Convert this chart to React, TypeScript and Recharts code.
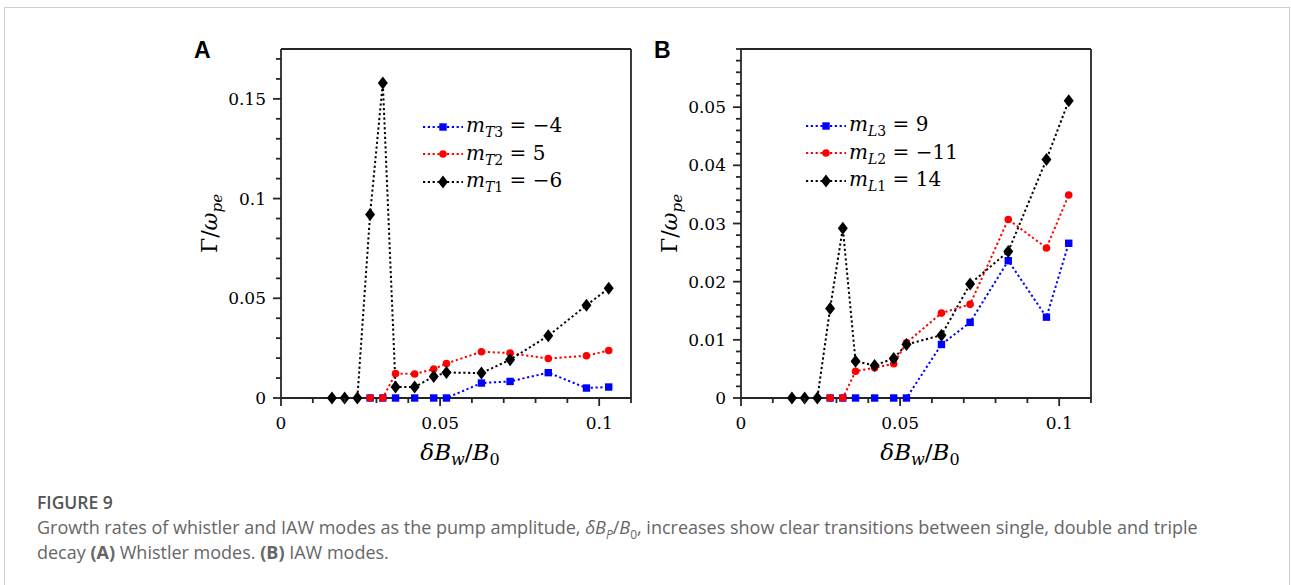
import { LineChart, Line, XAxis, YAxis } from 'recharts'

// pump amplitude dB_w/B_0 at which growth rates were computed
const xValues = [0.016, 0.02, 0.024, 0.028, 0.032, 0.036, 0.042, 0.048, 0.052, 0.063, 0.072, 0.084, 0.096, 0.103]

// (A) whistler modes, Gamma/omega_pe
const whistlerT3 = [null, null, null, 0, 0, 0, 0, 0, 0, 0.0075, 0.0083, 0.0127, 0.005, 0.0055]
const whistlerT2 = [null, null, null, 0, 0, 0.0123, 0.012, 0.0145, 0.0173, 0.0232, 0.0225, 0.0198, 0.0212, 0.0238]
const whistlerT1 = [0, 0, 0, 0.092, 0.158, 0.0055, 0.0055, 0.0108, 0.0128, 0.0125, 0.0192, 0.0312, 0.0465, 0.055]

// (B) IAW modes, Gamma/omega_pe
const iawL3 = [null, null, null, 0, 0, 0, 0, 0, 0, 0.0092, 0.013, 0.0236, 0.0139, 0.0266]
const iawL2 = [null, null, null, 0, 0, 0.0046, 0.0052, 0.0059, 0.0095, 0.0146, 0.0161, 0.0307, 0.0258, 0.0349]
const iawL1 = [0, 0, 0, 0.0154, 0.0292, 0.0063, 0.0056, 0.0068, 0.0092, 0.0108, 0.0196, 0.0252, 0.041, 0.0511]

const xTicks = [0, 0.01, 0.02, 0.03, 0.04, 0.05, 0.06, 0.07, 0.08, 0.09, 0.1, 0.11]
const xTickLabels = [0, 0.05, 0.1]
const yTicksA = [0, 0.01, 0.02, 0.03, 0.04, 0.05, 0.06, 0.07, 0.08, 0.09, 0.1, 0.11, 0.12, 0.13, 0.14, 0.15, 0.16, 0.17]
const yTickLabelsA = [0, 0.05, 0.1, 0.15]
const yTicksB = [0, 0.002, 0.004, 0.006, 0.008, 0.01, 0.012, 0.014, 0.016, 0.018, 0.02, 0.022, 0.024, 0.026, 0.028, 0.03,
  0.032, 0.034, 0.036, 0.038, 0.04, 0.042, 0.044, 0.046, 0.048, 0.05, 0.052, 0.054, 0.056, 0.058, 0.06]
const yTickLabelsB = [0, 0.01, 0.02, 0.03, 0.04, 0.05]

const legendA = [['T3', '−4'], ['T2', '5'], ['T1', '−6']]
const legendB = [['L3', '9'], ['L2', '−11'], ['L1', '14']]

const COLORS = ['#0000ff', '#ff0000', '#000000']
const SHAPES = ['square', 'circle', 'diamond']
const AXIS = '#262626'
const MATH = '"DejaVu Serif", serif'
const YW = 110 // left axis band

const toRows = (ys: (number | null)[]) => {
  const rows = [{ x: 0, y: 0 }]
  ys.forEach((y, i) => { if (y !== null) rows.push({ x: xValues[i], y }) })
  return rows
}

function Marker({ cx, cy, shape, color }: any) {
  if (shape === 'square') return <rect x={cx - 3.7} y={cy - 3.7} width={7.4} height={7.4} fill={color} />
  if (shape === 'circle') return <circle cx={cx} cy={cy} r={3.8} fill={color} />
  return <path d={`M${cx},${cy - 6.5}L${cx + 5},${cy}L${cx},${cy + 6.5}L${cx - 5},${cy}Z`} fill={color} />
}

const near = (list: number[], v: number) => list.some(m => Math.abs(m - v) < 1e-9)

const makeTick = (side: string, labels: number[]) => (props: any) => {
  const { x, y, payload, index } = props
  const v = payload.value
  const major = near(labels, v)
  const len = major ? 8 : 5
  let line
  if (side === 'bottom') line = <line x1={x} y1={y} x2={x} y2={y + len} />
  else if (side === 'top') line = <line x1={x} y1={y} x2={x} y2={y - len} />
  else if (side === 'left') line = <line x1={x} y1={y} x2={x - len} y2={y} />
  else line = <line x1={x} y1={y} x2={x + len} y2={y} />
  return (
    <g key={`${side}-${index}`} stroke={AXIS} strokeWidth={1.8}>
      {line}
      {major && side === 'bottom' && (
        <text x={x} y={y + 31} textAnchor="middle" stroke="none" fill="#000" fontFamily={MATH} fontSize={17}>{String(v)}</text>
      )}
      {major && side === 'left' && (
        <text x={x - 15} y={y + 6} textAnchor="end" stroke="none" fill="#000" fontFamily={MATH} fontSize={17}>{String(v)}</text>
      )}
    </g>
  )
}

const xTitle = (props: any) => {
  const { x, y, width } = props.viewBox
  return (
    <text x={x + width / 2 + 4} y={y + 62} textAnchor="middle" fontFamily={MATH} fontSize={23} fill="#000">
      <tspan fontStyle="italic">δB</tspan>
      <tspan fontStyle="italic" fontSize={16} dy={5}>w</tspan>
      <tspan dy={-5}>/</tspan>
      <tspan fontStyle="italic">B</tspan>
      <tspan fontSize={16} dy={5}>0</tspan>
    </text>
  )
}

const yTitle = (props: any) => {
  const { x, y, width, height } = props.viewBox
  const tx = x + width - 64
  const ty = y + height / 2
  return (
    <text x={tx} y={ty} transform={`rotate(-90, ${tx}, ${ty})`} textAnchor="middle" fontFamily={MATH} fontSize={22} fill="#000">
      Γ/<tspan fontStyle="italic">ω</tspan>
      <tspan fontStyle="italic" fontSize={15} dy={5}>pe</tspan>
    </text>
  )
}

function Legend({ left, top, group, items }: any) {
  return (
    <div style={{ position: 'absolute', left, top, fontFamily: MATH, fontSize: 20, color: '#000' }}>
      {items.map((it: string[], i: number) => (
        <div key={it[0]} style={{ display: 'flex', alignItems: 'center', height: 27.5, whiteSpace: 'nowrap' }}>
          <svg width={40} height={20}>
            <line x1={0} y1={10} x2={40} y2={10} stroke={COLORS[i]} strokeWidth={2} strokeDasharray="2.2 2.6" />
            <Marker cx={20} cy={10} shape={SHAPES[i]} color={COLORS[i]} />
          </svg>
          <span style={{ marginLeft: 3 }}>
            <i>m</i>
            <sub style={{ fontSize: 14, verticalAlign: -5 }}><i>{group}</i>{it[0].slice(1)}</sub>
            <span> = {it[1]}</span>
          </span>
        </div>
      ))}
    </div>
  )
}

function Panel({ left, letter, series, yDomain, yTicks, yLabels }: any) {
  return (
    <div style={{ position: 'absolute', left: left - YW, top: 39, width: YW + 360, height: 429 }}>
      <LineChart width={YW + 360} height={429} margin={{ top: 0, right: 0, bottom: 0, left: 0 }}>
        <XAxis dataKey="x" type="number" domain={[0, 0.11]} ticks={xTicks} interval={0} height={70}
          tickSize={0} tickMargin={0} axisLine={{ stroke: AXIS, strokeWidth: 1.8 }} tickLine={false}
          tick={makeTick('bottom', xTickLabels)} label={{ content: xTitle }} />
        <XAxis xAxisId="top" orientation="top" dataKey="x" type="number" domain={[0, 0.11]} ticks={xTicks} interval={0}
          height={10} tickSize={0} tickMargin={0} axisLine={{ stroke: AXIS, strokeWidth: 1.8 }} tickLine={false}
          tick={makeTick('top', xTickLabels)} />
        <YAxis type="number" domain={yDomain} ticks={yTicks} interval={0} width={YW} tickSize={0} tickMargin={0}
          axisLine={{ stroke: AXIS, strokeWidth: 1.8 }} tickLine={false} tick={makeTick('left', yLabels)}
          label={{ content: yTitle }} />
        <YAxis yAxisId="right" orientation="right" type="number" domain={yDomain} ticks={yTicks} interval={0} width={10}
          tickSize={0} tickMargin={0} axisLine={{ stroke: AXIS, strokeWidth: 1.8 }} tickLine={false}
          tick={makeTick('right', yLabels)} />
        {series.map((s: any, i: number) => (
          <Line key={i} data={toRows(s)} dataKey="y" type="linear" stroke={COLORS[i]} strokeWidth={2}
            strokeDasharray="2.2 2.6" isAnimationActive={false} activeDot={false}
            dot={(p: any) => p.payload.x === 0
              ? <g key={`d${i}-${p.index}`} />
              : <Marker key={`d${i}-${p.index}`} cx={p.cx} cy={p.cy} shape={SHAPES[i]} color={COLORS[i]} />} />
        ))}
      </LineChart>
      <div style={{ position: 'absolute', left: YW - 87, top: -2, fontFamily: '"Liberation Sans", Arial, sans-serif', fontWeight: 700, fontSize: 23, color: '#000' }}>{letter}</div>
    </div>
  )
}

export default function App() {
  return (
    <div style={{ position: 'absolute', left: 0, top: 0, width: 1291, height: 585, overflow: 'hidden', background: '#fff' }}>
      <div style={{ position: 'absolute', left: 4, top: 7, width: 1284, height: 640, border: '1px solid #cfcfcf' }} />
      <Panel left={281} letter="A" series={[whistlerT3, whistlerT2, whistlerT1]} yDomain={[0, 0.175]} yTicks={yTicksA} yLabels={yTickLabelsA} />
      <Panel left={741} letter="B" series={[iawL3, iawL2, iawL1]} yDomain={[0, 0.06]} yTicks={yTicksB} yLabels={yTickLabelsB} />
      <Legend left={423} top={113} group="T" items={legendA} />
      <Legend left={806} top={112} group="L" items={legendB} />
      <div style={{ position: 'absolute', left: 37, top: 490, fontFamily: '"Open Sans", sans-serif', fontWeight: 600, fontSize: 17.5, color: '#555' }}>FIGURE 9</div>
      <div style={{ position: 'absolute', left: 37, top: 515, width: 1200, fontFamily: '"Open Sans", sans-serif', fontSize: 18, lineHeight: '25px', color: '#666' }}>
        Growth rates of whistler and IAW modes as the pump amplitude, <i>δB</i><sub style={{ fontSize: 12, lineHeight: 0 }}><i>P</i></sub>/<i>B</i><sub style={{ fontSize: 12, lineHeight: 0 }}>0</sub>, increases show clear transitions between single, double and triple decay <b>(A)</b> Whistler modes. <b>(B)</b> IAW modes.
      </div>
    </div>
  )
}
